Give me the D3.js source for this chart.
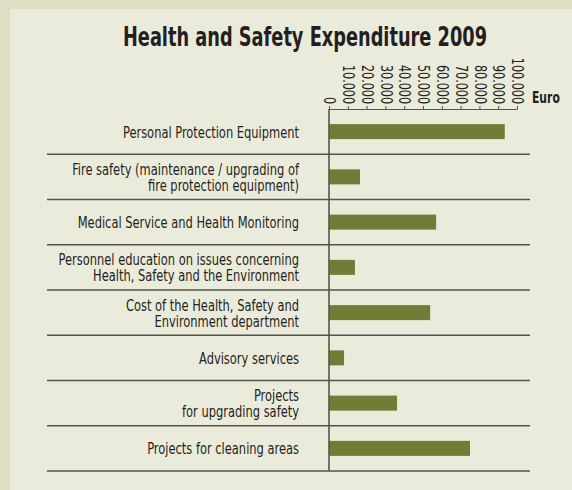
<!DOCTYPE html>
<html>
<head>
<meta charset="utf-8">
<script src="https://cdn.jsdelivr.net/npm/d3@7"></script>
<style>
  body { margin: 0; background: #dfdec4; }
  svg { display: block; }
</style>
</head>
<body>
<div id="chart"></div>
<script>
// data (Euro)
var categories = [
  ["Personal Protection Equipment"],
  ["Fire safety (maintenance / upgrading of", "fire protection equipment)"],
  ["Medical Service and Health Monitoring"],
  ["Personnel education on issues concerning", "Health, Safety and the Environment"],
  ["Cost of the Health, Safety and", "Environment department"],
  ["Advisory services"],
  ["Projects", "for upgrading safety"],
  ["Projects for cleaning areas"]
];
var values = [93500, 16500, 57000, 13800, 53800, 8000, 36200, 75000];
var tickValues = [0, 10000, 20000, 30000, 40000, 50000, 60000, 70000, 80000, 90000, 100000];
var tickLabels = ["0", "10.000", "20.000", "30.000", "40.000", "50.000", "60.000", "70.000", "80.000", "90.000", "100.000"];

var w = 572, h = 490;
// the original uses a condensed face, so squeeze the text horizontally
var font = "'DejaVu Sans Condensed', 'DejaVu Sans', sans-serif";
var squeeze = 0.85;

var svg = d3.select("#chart").append("svg")
    .attr("width", w)
    .attr("height", h);

// panel
svg.append("rect")
    .attr("x", 10).attr("y", 9)
    .attr("width", w - 10).attr("height", h - 9)
    .attr("fill", "#ebebdc");

svg.append("text")
    .attr("transform", "translate(305,46) scale(0.76,1)")
    .attr("text-anchor", "middle")
    .attr("font-family", font)
    .attr("font-weight", "bold")
    .attr("font-size", 26)
    .attr("fill", "#231f20")
    .text("Health and Safety Expenditure 2009");

var x = d3.scaleLinear().domain([0, 100000]).range([329, 517]);
var y = d3.scaleBand().domain(d3.range(categories.length)).range([109, 471]);

// row separators
svg.selectAll("line.sep")
    .data(d3.range(1, categories.length + 1))
    .enter().append("line")
    .attr("class", "sep")
    .attr("x1", 47).attr("x2", 530)
    .attr("y1", function(d) { return y(d - 1) + y.bandwidth(); })
    .attr("y2", function(d) { return y(d - 1) + y.bandwidth(); })
    .attr("stroke", "#55554d")
    .attr("stroke-width", 1.6);

// bars
svg.selectAll("rect.bar")
    .data(values)
    .enter().append("rect")
    .attr("class", "bar")
    .attr("x", x(0))
    .attr("y", function(d, i) { return y(i) + y.bandwidth() / 2 - 7.5; })
    .attr("width", function(d) { return x(d) - x(0); })
    .attr("height", 15)
    .attr("fill", "#727c35");

// top axis
var axis = d3.axisTop(x)
    .tickValues(tickValues)
    .tickSize(3)
    .tickFormat(function(d, i) { return tickLabels[i]; });

var ax = svg.append("g")
    .attr("transform", "translate(0,109)")
    .call(axis);
ax.select(".domain").attr("stroke", "#55554d");
ax.selectAll(".tick line").attr("stroke", "#55554d");
ax.selectAll(".tick text")
    .attr("font-family", font)
    .attr("font-size", 15)
    .attr("fill", "#231f20")
    .attr("text-anchor", "end")
    .attr("transform", "rotate(90) scale(0.83,1)")
    .attr("x", -6)
    .attr("y", 0)
    .attr("dy", "0.35em");

// vertical axis line
svg.append("line")
    .attr("x1", x(0)).attr("x2", x(0))
    .attr("y1", 109).attr("y2", 471)
    .attr("stroke", "#55554d")
    .attr("stroke-width", 1.6);

svg.append("text")
    .attr("transform", "translate(532,103) scale(0.8,1)")
    .attr("font-family", font)
    .attr("font-weight", "bold")
    .attr("font-size", 15)
    .attr("fill", "#231f20")
    .text("Euro");

// category labels
var labels = svg.selectAll("text.cat")
    .data(categories)
    .enter().append("text")
    .attr("class", "cat")
    .attr("text-anchor", "end")
    .attr("font-family", font)
    .attr("font-size", 15)
    .attr("fill", "#231f20")
    .attr("transform", function(d, i) {
        var ty = y(i) + y.bandwidth() / 2 + 6 - (d.length - 1) * 8;
        return "translate(299," + ty + ") scale(" + squeeze + ",1)";
    });

labels.selectAll("tspan")
    .data(function(d) { return d; })
    .enter().append("tspan")
    .attr("x", 0)
    .attr("dy", function(d, i) { return i ? 16 : 0; })
    .text(function(d) { return d; });
</script>
</body>
</html>
